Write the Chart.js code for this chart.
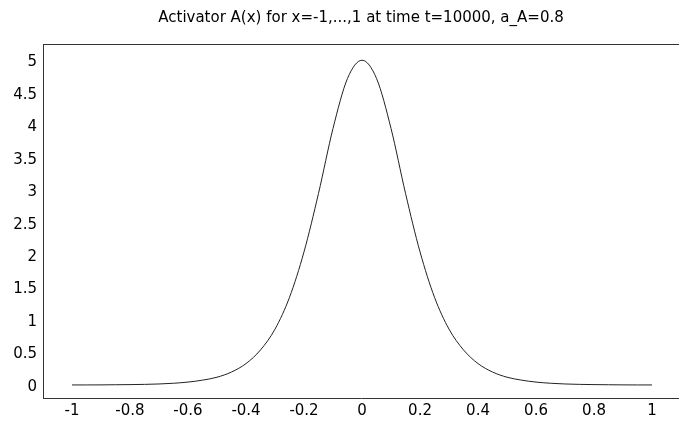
<!DOCTYPE html>
<html>
<head>
<meta charset="utf-8">
<script src="https://cdn.jsdelivr.net/npm/chart.js@4"></script>
<style>
  html, body { margin: 0; padding: 0; background: #fff; }
  #wrap { width: 679px; height: 428px; }
</style>
</head>
<body>
<div id="wrap"><canvas id="grafico" width="679" height="428"></canvas></div>
<script>
// Dados
var posicoes = [-1, -0.95, -0.9, -0.85, -0.8, -0.75, -0.7, -0.65, -0.6, -0.55, -0.5, -0.45, -0.4, -0.35, -0.3, -0.25, -0.2, -0.15, -0.1, -0.05,
    0, 0.05, 0.1, 0.15, 0.2, 0.25, 0.3, 0.35, 0.4, 0.45, 0.5, 0.55, 0.6, 0.65, 0.7, 0.75, 0.8, 0.85, 0.9, 0.95, 1];
var ativador = [0.001, 0.001, 0.002, 0.004, 0.006, 0.010, 0.016, 0.027, 0.045, 0.075, 0.12, 0.20, 0.33, 0.54, 0.86, 1.35, 2.05, 2.95, 3.95, 4.72,
    5.00, 4.72, 3.95, 2.95, 2.05, 1.35, 0.86, 0.54, 0.33, 0.20, 0.12, 0.075, 0.045, 0.027, 0.016, 0.010, 0.006, 0.004, 0.002, 0.001, 0.001];

var ticksX = [-1, -0.8, -0.6, -0.4, -0.2, 0, 0.2, 0.4, 0.6, 0.8, 1];
var rotulosX = ['-1', '-0.8', '-0.6', '-0.4', '-0.2', '0', '0.2', '0.4', '0.6', '0.8', '1'];
var ticksY = [0, 0.5, 1, 1.5, 2, 2.5, 3, 3.5, 4, 4.5, 5];
var rotulosY = ['0', '0.5', '1', '1.5', '2', '2.5', '3', '3.5', '4', '4.5', '5'];

var titulo = 'Activator A(x) for x=-1,...,1 at time t=10000, a_A=0.8';

var pontos = posicoes.map(function (x, i) {
    return { x: x, y: ativador[i] };
});

var fonte = { family: 'DejaVu Sans', size: 15 };

// linha de cima da área do gráfico
var bordaTopo = {
    id: 'bordaTopo',
    afterDraw: function (chart) {
        var a = chart.chartArea;
        var c = chart.ctx;
        c.save();
        c.strokeStyle = '#333';
        c.lineWidth = 1;
        c.beginPath();
        c.moveTo(a.left, a.top + 0.5);
        c.lineTo(a.right, a.top + 0.5);
        c.stroke();
        c.restore();
    }
};

var ctx = document.getElementById('grafico').getContext('2d');
var myChart = new Chart(ctx, {
    type: 'scatter',
    data: {
        datasets: [{
            data: pontos,
            showLine: true,
            borderColor: '#222',
            borderWidth: 1,
            pointRadius: 0,
            cubicInterpolationMode: 'monotone',
            fill: false
        }]
    },
    options: {
        responsive: false,
        animation: false,
        layout: { padding: 0 },
        scales: {
            x: {
                type: 'linear',
                min: -1.1,
                max: 1.093,
                grid: { display: false, drawTicks: false },
                border: { display: true, color: '#333', width: 1 },
                afterBuildTicks: function (scale) {
                    scale.ticks = ticksX.map(function (v) { return { value: v }; });
                },
                afterFit: function (scale) { scale.height = 30; },
                ticks: {
                    color: '#000',
                    font: fonte,
                    padding: 4,
                    maxRotation: 0,
                    autoSkip: false,
                    callback: function (value) {
                        var i = ticksX.indexOf(value);
                        return i >= 0 ? rotulosX[i] : '';
                    }
                }
            },
            y: {
                type: 'linear',
                min: -0.2,
                max: 5.25,
                grid: { display: false, drawTicks: false },
                border: { display: true, color: '#333', width: 1 },
                afterBuildTicks: function (scale) {
                    scale.ticks = ticksY.map(function (v) { return { value: v }; });
                },
                afterFit: function (scale) { scale.width = 43; },
                ticks: {
                    color: '#000',
                    font: fonte,
                    padding: 6,
                    labelOffset: 2,
                    autoSkip: false,
                    callback: function (value) {
                        var i = ticksY.indexOf(value);
                        return i >= 0 ? rotulosY[i] : '';
                    }
                }
            }
        },
        plugins: {
            legend: { display: false },
            tooltip: { enabled: false },
            title: {
                display: true,
                text: titulo,
                fullSize: false,
                color: '#000',
                font: { family: 'DejaVu Sans', size: 15, weight: 'normal' },
                padding: { top: 9, bottom: 17 }
            }
        }
    },
    plugins: [bordaTopo]
});
</script>
</body>
</html>
